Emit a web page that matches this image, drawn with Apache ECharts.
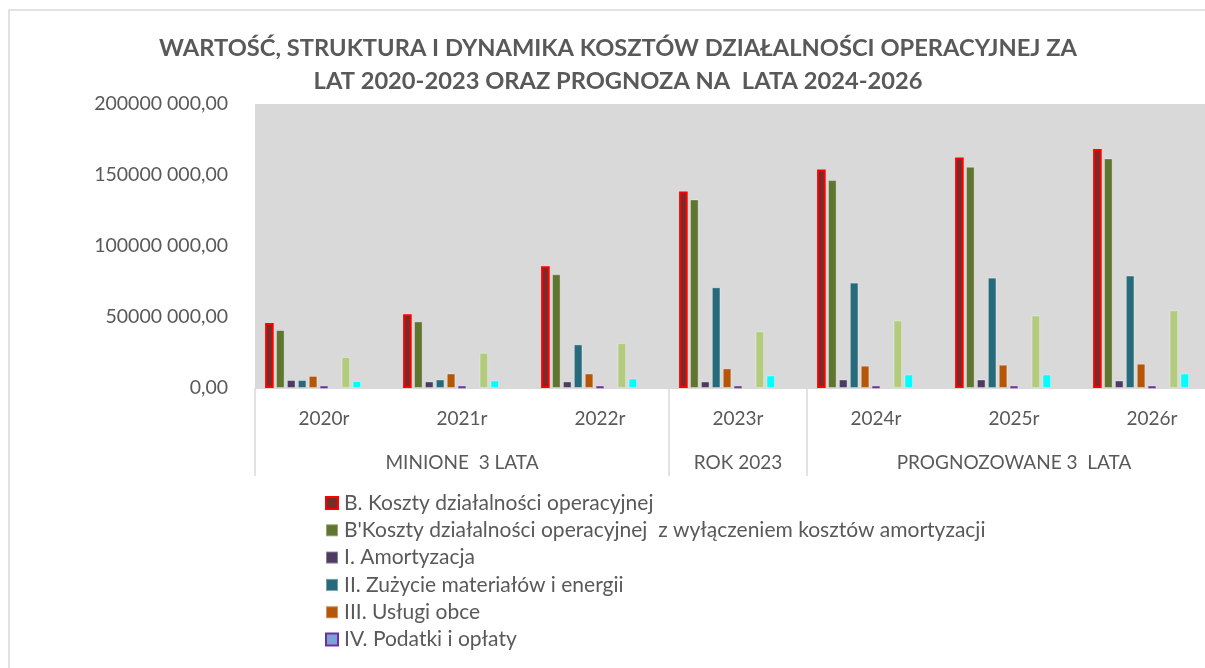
<!DOCTYPE html>
<html>
<head>
<meta charset="utf-8">
<script src="https://cdn.jsdelivr.net/npm/echarts@6/dist/echarts.min.js"></script>
<style>
  html, body { margin: 0; padding: 0; background: #fff; }
  #chart { width: 1205px; height: 668px; }
</style>
</head>
<body>
<div id="chart"></div>
<script>
const years = ['2020r', '2021r', '2022r', '2023r', '2024r', '2025r', '2026r']
const groupLabels = ['', 'MINIONE  3 LATA', '', 'ROK 2023', '', 'PROGNOZOWANE 3  LATA', '']
const yTicks = { min: 0, max: 200000000, step: 50000000 }

const kosztyB = [45800000, 51900000, 85700000, 138400000, 153900000, 162400000, 168300000]
const kosztyBbezAm = [40800000, 46900000, 80100000, 132800000, 146400000, 155800000, 161700000]
const amortyzacja = [5600000, 4600000, 4600000, 4600000, 6000000, 6000000, 5300000]
const zuzycie = [5600000, 6000000, 30700000, 70900000, 74200000, 77700000, 79200000]
const uslugi = [8500000, 10200000, 10200000, 13800000, 15700000, 16400000, 17100000]
const podatki = [900000, 900000, 900000, 900000, 900000, 900000, 900000]
const wynagrodzenia = [null, null, null, null, null, null, null]
const ubezpieczenia = [21800000, 24800000, 31600000, 39900000, 47600000, 51100000, 54700000]
const pozostale = [4900000, 5300000, 6700000, 8800000, 9500000, 9500000, 10200000]
const towary = [null, null, null, null, null, null, null]
const inne = [null, null, null, null, null, null, null]

const txt = '#595959'
const font = 'Lato'
const thin = { borderColor: 'rgba(255,255,255,0.35)', borderWidth: 1 }

const seriesDefs = [
  { name: 'B. Koszty działalności operacyjnej', data: kosztyB, style: { color: '#772C2A', borderColor: '#FF0000', borderWidth: 2 } },
  { name: "B'Koszty działalności operacyjnej  z wyłączeniem kosztów amortyzacji", data: kosztyBbezAm, style: { color: '#5F7530', ...thin } },
  { name: 'I. Amortyzacja', data: amortyzacja, style: { color: '#4D3B62', ...thin } },
  { name: 'II. Zużycie materiałów i energii', data: zuzycie, style: { color: '#276A7C', ...thin } },
  { name: 'III. Usługi obce', data: uslugi, style: { color: '#B65708', ...thin } },
  { name: 'IV. Podatki i opłaty', data: podatki, style: { color: '#7BA3D6', borderColor: '#7030A0', borderWidth: 2 } },
  { name: 'V. Wynagrodzenia', data: wynagrodzenia, style: { color: '#999999' } },
  { name: 'VI. Ubezpieczenia społeczne i inne świadczenia', data: ubezpieczenia, style: { color: '#B2CB7D', ...thin } },
  { name: 'VII. Pozostałe koszty rodzajowe', data: pozostale, style: { color: '#00FFFF', ...thin } },
  { name: 'VIII. Wartość sprzedanych towarów i materiałów', data: towary, style: { color: '#999999' } },
  { name: 'IX. Inne', data: inne, style: { color: '#999999' } }
]

const fmtY = v => v === 0 ? '0,00' : Math.floor(v / 1000) + ' ' + String(v % 1000).padStart(3, '0') + ',00'

const chart = echarts.init(document.getElementById('chart'))
chart.setOption({
  animation: false,
  backgroundColor: '#fff',
  textStyle: { fontFamily: font },
  title: {
    text: 'WARTOŚĆ, STRUKTURA I DYNAMIKA KOSZTÓW DZIAŁALNOŚCI OPERACYJNEJ ZA\nLAT 2020-2023 ORAZ PROGNOZA NA  LATA 2024-2026',
    left: 613, top: 27, textAlign: 'center',
    textStyle: { fontFamily: font, fontSize: 23.7, fontWeight: 'bold', color: txt, lineHeight: 33 }
  },
  graphic: [{
    type: 'rect', silent: true, z: -1,
    shape: { x: 9, y: 10, width: 1300, height: 800 },
    style: { fill: 'none', stroke: '#D9D9D9', lineWidth: 1.5 }
  }],
  legend: {
    orient: 'vertical', left: 325, top: 492.5, padding: 0,
    itemWidth: 12, itemHeight: 12, itemGap: 6.3,
    icon: 'rect',
    data: seriesDefs.slice(0, 6).map(s => s.name),
    textStyle: { fontFamily: font, fontSize: 21, color: txt, padding: [0, 0, 0, 1] }
  },
  grid: {
    left: 255, top: 104, width: 966, bottom: 280,
    outerBoundsMode: 'none',
    show: true, backgroundColor: '#D9D9D9', borderWidth: 0
  },
  xAxis: [{
    type: 'category', data: years,
    axisLine: { show: true, lineStyle: { color: '#D9D9D9', width: 1 } },
    axisTick: { show: true, length: 88, interval: (i) => i === 0 || i === 3 || i === 4, lineStyle: { color: '#D9D9D9', width: 1.5 } },
    axisLabel: { interval: 0, margin: 21, fontFamily: font, fontSize: 19, color: txt },
    splitLine: { show: false }
  }, {
    type: 'category', data: groupLabels, position: 'bottom',
    axisLine: { show: false }, axisTick: { show: false },
    axisLabel: { interval: 0, margin: 65, fontFamily: font, fontSize: 19, color: txt },
    splitLine: { show: false }
  }],
  yAxis: {
    type: 'value', min: yTicks.min, max: yTicks.max, interval: yTicks.step,
    axisLine: { show: false }, axisTick: { show: false }, splitLine: { show: false },
    axisLabel: { margin: 27, fontFamily: font, fontSize: 19.5, color: txt, formatter: fmtY }
  },
  series: seriesDefs.map(s => ({
    type: 'bar', name: s.name, data: s.data, xAxisIndex: 0,
    barWidth: 8.6, barGap: '27%',
    itemStyle: s.style
  }))
})
</script>
</body>
</html>
